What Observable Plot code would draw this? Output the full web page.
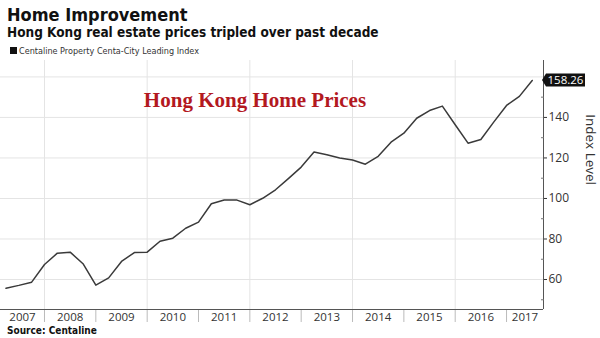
<!DOCTYPE html>
<html>
<head>
<meta charset="utf-8">
<script src="https://cdn.jsdelivr.net/npm/d3@7"></script>
<script src="https://cdn.jsdelivr.net/npm/@observablehq/plot@0.6"></script>
<style>
  body { margin: 0; background: #fff; }
  #wrap { position: relative; width: 600px; height: 338px; overflow: hidden; background: #fff; }
  .t { position: absolute; left: 7px; white-space: nowrap; color: #111; }
  #title { top: 4px; font: bold 18px "DejaVu Sans Condensed", "DejaVu Sans", sans-serif; }
  #subtitle { top: 24px; font: bold 13.5px "DejaVu Sans Condensed", "DejaVu Sans", sans-serif; }
  #legend { top: 46px; left: 10px; font: 9px "DejaVu Sans Condensed", "DejaVu Sans", sans-serif; color: #333; }
  #legend span { display: inline-block; width: 7px; height: 7px; background: #111; margin-right: 2px; }
  #source { top: 325px; font: bold 10px "DejaVu Sans Condensed", "DejaVu Sans", sans-serif; }
  #chart { position: absolute; left: 0; top: 58px; }
</style>
</head>
<body>
<div id="wrap">
  <div class="t" id="title">Home Improvement</div>
  <div class="t" id="subtitle">Hong Kong real estate prices tripled over past decade</div>
  <div class="t" id="legend"><span></span>Centaline Property Centa-City Leading Index</div>
  <div id="chart"></div>
  <div class="t" id="source">Source: Centaline</div>
</div>
<script>
// Quarter-end observations
const quarters = [
  "2007Q1","2007Q2","2007Q3","2007Q4",
  "2008Q1","2008Q2","2008Q3","2008Q4",
  "2009Q1","2009Q2","2009Q3","2009Q4",
  "2010Q1","2010Q2","2010Q3","2010Q4",
  "2011Q1","2011Q2","2011Q3","2011Q4",
  "2012Q1","2012Q2","2012Q3","2012Q4",
  "2013Q1","2013Q2","2013Q3","2013Q4",
  "2014Q1","2014Q2","2014Q3","2014Q4",
  "2015Q1","2015Q2","2015Q3","2015Q4",
  "2016Q1","2016Q2","2016Q3","2016Q4",
  "2017Q1","2017Q2"
];
const indexValues = [
  55.7, 57.1, 58.7, 67.4,
  73.0, 73.5, 67.8, 57.2,
  60.8, 68.9, 73.3, 73.5,
  78.9, 80.4, 85.3, 88.3,
  97.4, 99.2, 99.2, 96.9,
  100.1, 104.3, 109.8, 115.5,
  122.9, 121.6, 120.0, 119.0,
  116.9, 120.8, 127.8, 132.2,
  139.6, 143.4, 145.6, 136.4,
  127.3, 129.1, 137.7, 145.9,
  150.4, 158.26
];
const yearLabels = ["2007","2008","2009","2010","2011","2012","2013","2014","2015","2016","2017"];
const yTickValues = [60, 80, 100, 120, 140];
const yGridValues = [60, 80, 100, 120, 140, 160];
const yMinorValues = [50, 70, 90, 110, 130, 150];
const xGridYears = [2008, 2010, 2012, 2014, 2016];
const annotation = {x: 2012.1, y: 148.4, text: "Hong Kong Home Prices"};
const lastLabel = "158.26";

const xDomain = [2007.143, 2017.72];
const yDomain = [45.2, 168.1];

const toDecimal = q => +q.slice(0, 4) + (+q.slice(5)) * 0.25;
const data = quarters.map((q, i) => ({t: toDecimal(q), v: indexValues[i]}));

const years = yearLabels.map(y => {
  const a = Math.max(+y, xDomain[0]);
  const b = Math.min(+y + 1, xDomain[1]);
  return {label: y, mid: (a + b) / 2};
});
const separators = yearLabels.slice(1).map(y => +y);
const last = data[data.length - 1];

function valueTag(index, scales, values, dimensions) {
  const g = d3.create("svg:g");
  const x0 = dimensions.width - dimensions.marginRight;
  const y0 = scales.y(last.v);
  const w = 39, h = 13;
  g.append("path")
    .attr("d", `M${x0 - 1},${y0} L${x0 + 3},${y0 - h / 2} H${x0 + 3 + w} V${y0 + h / 2} H${x0 + 3} Z`)
    .attr("fill", "#111");
  g.append("text")
    .attr("x", x0 + 3 + w / 2)
    .attr("y", y0)
    .attr("dy", "0.35em")
    .attr("text-anchor", "middle")
    .attr("fill", "#fff")
    .attr("font-size", 11.5)
    .attr("font-family", "Open Sans, sans-serif")
    .text(lastLabel);
  return g.node();
}

const chart = Plot.plot({
  width: 600,
  height: 266,
  marginLeft: 0,
  marginRight: 57,
  marginTop: 2,
  marginBottom: 15,
  style: {fontFamily: "Open Sans, sans-serif", background: "transparent"},
  x: {domain: xDomain, axis: null},
  y: {domain: yDomain, axis: null},
  marks: [
    Plot.ruleY(yGridValues, {stroke: "#e4e4e4", strokeWidth: 1}),
    Plot.ruleX(xGridYears, {stroke: "#e4e4e4", strokeWidth: 1}),
    Plot.ruleX(separators, {y1: yDomain[0], y2: yDomain[0], stroke: "#bbb", insetBottom: -13}),
    Plot.text(years, {x: "mid", text: "label", frameAnchor: "bottom", dy: 8, fontSize: 11.5, fill: "#333", lineAnchor: "middle"}),
    Plot.line(data, {x: "t", y: "v", stroke: "#3a3a3a", strokeWidth: 1.5}),
    Plot.ruleY([yDomain[0]], {stroke: "#555", strokeWidth: 1}),
    Plot.ruleX([xDomain[1]], {stroke: "#555", strokeWidth: 1}),
    Plot.axisY({anchor: "right", ticks: yTickValues, tickSize: 3, tickPadding: 2, fontSize: 12, color: "#333", label: null, tickFormat: d => d}),
    Plot.axisY({anchor: "right", ticks: yMinorValues, tickSize: -3, tickFormat: () => "", label: null, stroke: "#777"}),
    Plot.text([annotation], {x: "x", y: "y", text: "text", fill: "#b3191f", fontSize: 21, fontWeight: "bold", fontFamily: "Liberation Serif, serif"}),
    Plot.text(["Index Level"], {frameAnchor: "right", dx: 47, rotate: 90, fontSize: 13.5, fill: "#333"}),
    valueTag
  ]
});
document.getElementById("chart").appendChild(chart);
</script>
</body>
</html>
